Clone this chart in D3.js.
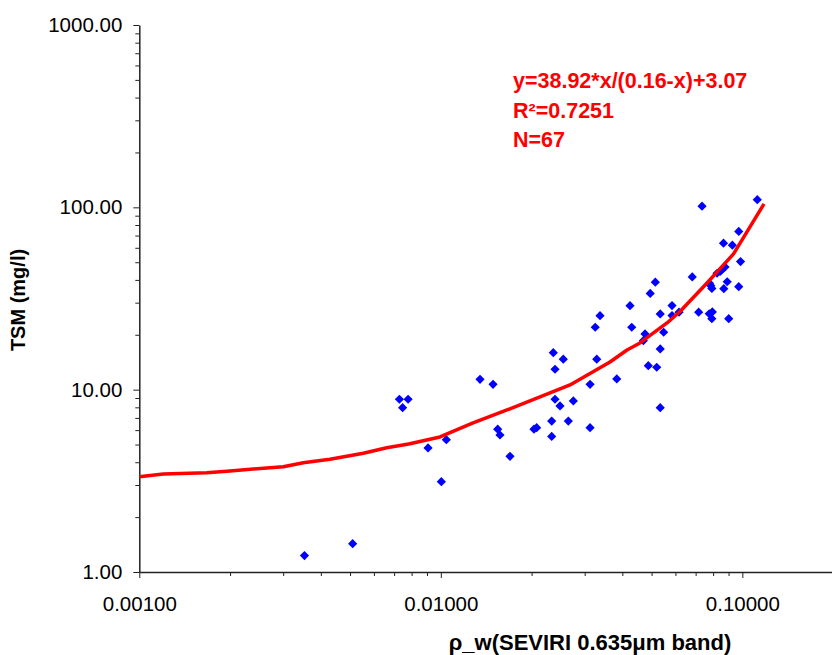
<!DOCTYPE html>
<html>
<head>
<meta charset="utf-8">
<script src="https://cdn.jsdelivr.net/npm/d3@7/dist/d3.min.js"></script>
<style>
  body { margin: 0; background: #fff; }
  svg { display: block; font-family: "Liberation Sans", Arial, sans-serif; }
  .axis path, .axis line { stroke: #222; }
  .axis text { fill: #000; font-size: 20.5px; }
</style>
</head>
<body>
<div id="chart"></div>
<script>
// scatter: rho_w (SEVIRI 0.635um) vs TSM (mg/l)
var rhoW = [0.00353, 0.00510, 0.00729, 0.00779, 0.00747, 0.00907, 0.01043, 0.01004,
    0.01349, 0.01490, 0.01544, 0.01571, 0.01696, 0.02037, 0.02079, 0.02361, 0.02548,
    0.02392, 0.02392, 0.02751, 0.02485, 0.02332, 0.02648, 0.02332, 0.03126, 0.03126,
    0.03290, 0.03252, 0.03373, 0.03833, 0.04241, 0.04297, 0.04757, 0.04695, 0.04949,
    0.05145, 0.05342, 0.05342, 0.04877, 0.05201, 0.05342, 0.05483, 0.05845, 0.05845,
    0.06167, 0.06822, 0.07164, 0.07351, 0.07785, 0.07922, 0.07767, 0.07953, 0.07922,
    0.08244, 0.08545, 0.08762, 0.08910, 0.08681, 0.09730, 0.09013, 0.08661, 0.09265,
    0.09730, 0.09863, 0.1121, 0.0786, 0.0844];
var tsm = [1.23, 1.43, 8.86, 8.86, 7.97, 4.79, 5.32, 3.13,
    11.40, 10.70, 6.07, 5.64, 4.31, 6.07, 6.19, 15.96, 14.69,
    12.94, 8.86, 8.67, 8.14, 6.73, 6.73, 5.54, 10.70, 6.19,
    14.70, 22.00, 25.46, 11.45, 28.89, 22.00, 20.21, 18.57, 33.71,
    38.88, 26.02, 16.72, 13.54, 13.27, 7.97, 20.65, 28.93, 25.49,
    26.62, 41.51, 26.62, 101.5, 38.34, 35.91, 26.08, 26.69, 24.52,
    43.50, 45.36, 47.11, 39.07, 35.81, 36.73, 24.52, 63.63, 62.04,
    73.77, 50.38, 110.1, 37.2, 44.5];

// fitted curve as drawn (polyline)
var fitX = [0.001, 0.001201, 0.001673, 0.001999, 0.002714, 0.003004, 0.003498, 0.004291,
    0.005534, 0.006616, 0.007824, 0.009938, 0.01279, 0.01658, 0.02133, 0.02485, 0.02682,
    0.03640, 0.04145, 0.04577, 0.05626, 0.06214, 0.07637, 0.09350, 0.1180];
var fitY = [3.33, 3.45, 3.505, 3.58, 3.734, 3.782, 3.978, 4.152,
    4.478, 4.806, 5.037, 5.502, 6.567, 7.737, 9.12, 10.09, 10.61,
    14.19, 16.51, 18.04, 23.22, 26.85, 38.48, 55.52, 104.4];

var xMajor = [0.001, 0.01, 0.1];
var yMajor = [1, 10, 100, 1000];
var fitLabels = ["y=38.92*x/(0.16-x)+3.07", "R\u00b2=0.7251", "N=67"];

var width = 832, height = 655;
var plotLeft = 139.3, plotTop = 25, plotBottom = 572;

var svg = d3.select("#chart").append("svg")
    .attr("width", width)
    .attr("height", height);

var x = d3.scaleLog().domain([0.001, 0.2]).range([plotLeft, 833.1]);
var y = d3.scaleLog().domain([1, 1000]).range([plotBottom, plotTop]);

// minor ticks 2..9 per decade
var xMinor = [], yMinor = [];
[0.001, 0.01, 0.1].forEach(function (d) {
    for (var k = 2; k <= 9; k++) { if (d * k <= 0.2) xMinor.push(d * k); }
});
[1, 10, 100].forEach(function (d) {
    for (var k = 2; k <= 9; k++) yMinor.push(d * k);
});

svg.append("g")
    .attr("class", "axis")
    .attr("transform", "translate(0," + plotBottom + ")")
    .call(d3.axisBottom(x).tickValues(xMinor).tickSize(4).tickFormat(""))
    .call(function (g) { g.select(".domain").remove(); });

svg.append("g")
    .attr("class", "axis")
    .attr("transform", "translate(0," + plotBottom + ")")
    .call(d3.axisBottom(x).tickValues(xMajor).tickSize(6).tickSizeOuter(0).tickPadding(18)
        .tickFormat(d3.format(".5f")))
    .call(function (g) { g.select(".domain").attr("stroke-width", 1.5); });

svg.append("g")
    .attr("class", "axis")
    .attr("transform", "translate(" + plotLeft + ",0)")
    .call(d3.axisLeft(y).tickValues(yMinor).tickSize(4).tickFormat(""))
    .call(function (g) { g.select(".domain").remove(); });

svg.append("g")
    .attr("class", "axis")
    .attr("transform", "translate(" + plotLeft + ",0)")
    .call(d3.axisLeft(y).tickValues(yMajor).tickSize(6).tickSizeOuter(0).tickPadding(11)
        .tickFormat(d3.format(".2f")))
    .call(function (g) { g.select(".domain").attr("stroke-width", 1.5); });

// points
var diamond = "M0,-4.6L4.6,0L0,4.6L-4.6,0Z";
svg.append("g").selectAll("path")
    .data(d3.range(rhoW.length))
    .enter().append("path")
    .attr("d", diamond)
    .attr("transform", function (i) {
        return "translate(" + x(rhoW[i]) + "," + y(tsm[i]) + ")";
    })
    .attr("fill", "#0000ff");

// fitted curve
var line = d3.line()
    .x(function (i) { return x(fitX[i]); })
    .y(function (i) { return y(fitY[i]); });

svg.append("path")
    .datum(d3.range(fitX.length))
    .attr("d", line)
    .attr("fill", "none")
    .attr("stroke", "#ff0000")
    .attr("stroke-width", 3.5)
    .attr("stroke-linejoin", "round");

// fit equation
svg.append("g").selectAll("text")
    .data(fitLabels)
    .enter().append("text")
    .attr("x", 513)
    .attr("y", function (d, i) { return 88 + i * 29.5; })
    .attr("fill", "#ff0000")
    .attr("font-weight", "bold")
    .attr("font-size", "21.5px")
    .text(function (d) { return d; });

// axis titles
svg.append("text")
    .attr("x", 590)
    .attr("y", 650)
    .attr("text-anchor", "middle")
    .attr("font-weight", "bold")
    .attr("font-size", "22px")
    .text("\u03c1_w(SEVIRI 0.635\u03bcm band)");

svg.append("text")
    .attr("transform", "translate(25,300) rotate(-90)")
    .attr("text-anchor", "middle")
    .attr("font-weight", "bold")
    .attr("font-size", "20px")
    .text("TSM (mg/l)");
</script>
</body>
</html>
